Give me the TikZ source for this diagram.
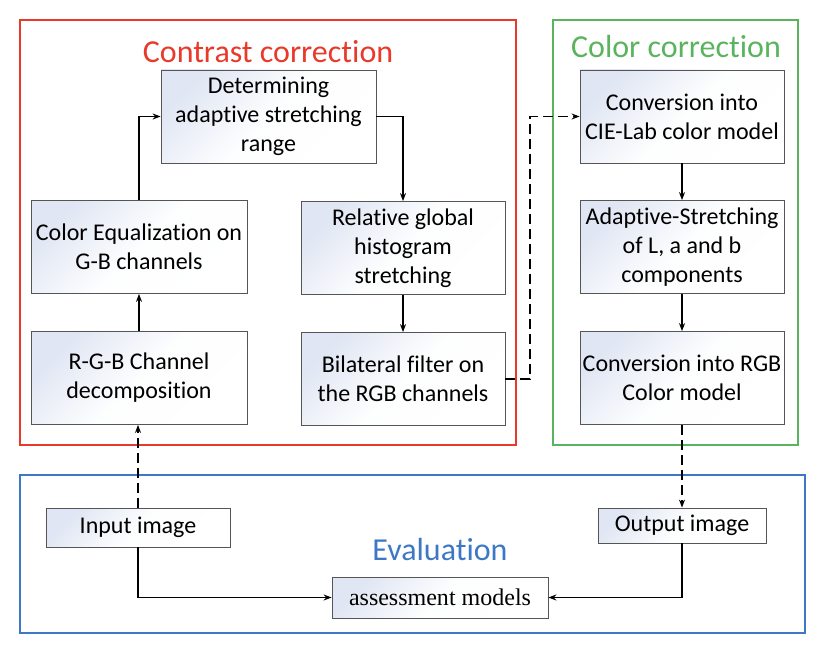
\documentclass[tikz,border=0pt]{standalone}
\usepackage{fontspec}
\setmainfont[Ligatures=NoCommon]{Carlito}
\newfontfamily\serifrm{Liberation Serif}
\usetikzlibrary{arrows.meta}
\definecolor{ccred}{HTML}{E8392B}
\definecolor{ccgreen}{HTML}{5AB45E}
\definecolor{ccblue}{HTML}{3C78C4}
\definecolor{boxtint}{HTML}{E0E6F3}
\definecolor{boxline}{HTML}{555555}

\begin{document}
\begin{tikzpicture}
  [x=1pt,y=-1pt,
   every node/.style={font=\fontsize{24}{29}\selectfont,align=center,inner sep=0pt},
   stage/.style={draw=boxline,line width=0.8pt,top color=boxtint,bottom color=white,
     middle color=white!94!boxtint,shading angle=45,minimum width=204pt,minimum height=93pt},
   frame/.style={line width=1.6pt},
   title/.style={font=\fontsize{32}{36}\selectfont},
   flow/.style={-{Stealth[length=8pt,width=6pt]},line width=1.3pt},
   hop/.style={flow,dash pattern=on 10pt off 5pt}]
  \useasboundingbox (0,0) rectangle (834,660);

  % frames
  \draw[frame,ccred] (20,20) rectangle (516,445);
  \draw[frame,ccgreen] (553,20) rectangle (798,445);
  \draw[frame,ccblue] (20,475) rectangle (805,633);
  \node[title,text=ccred] (ttlA) at (268,52) {Contrast correction};
  \node[title,text=ccgreen] (ttlB) at (676,47) {Color correction};
  \node[title,text=ccblue] (ttlC) at (440,550) {Evaluation};

  % contrast correction
  \node[stage,minimum width=215pt] (det) at (268.5,116.5) {Determining\\adaptive stretching\\range};
  \node[stage,minimum width=216pt] (coleq) at (139,247) {Color Equalization on\\G-B channels};
  \node[stage,minimum width=216pt] (rgbdec) at (139,378) {R-G-B Channel\\decomposition};
  \node[stage] (relhist) at (403,248) {Relative global\\histogram\\stretching};
  \node[stage] (bilat) at (403,379) {Bilateral filter on\\the RGB channels};

  % color correction
  \node[stage] (cie) at (682,116.5) {Conversion into\\CIE-Lab color model};
  \node[stage] (adapt) at (682,247) {Adaptive-Stretching\\of L, a and b\\components};
  \node[stage] (convrgb) at (682,378) {Conversion into RGB\\Color model};

  % evaluation
  \node[stage,minimum width=184pt,minimum height=39pt] (input) at (138,527.5) {Input image};
  \node[stage,minimum width=168pt,minimum height=35pt] (output) at (682,525.5) {Output image};
  \node[stage,minimum width=216pt,minimum height=41pt,font=\serifrm\fontsize{24}{29}\selectfont] (assess) at (440,597.5) {assessment models};

  \coordinate (jog) at (530,116.5);

  \foreach \from/\to in {rgbdec/coleq,relhist/bilat,cie/adapt,adapt/convrgb}
    \draw[flow] (\from) -- (\to);
  \draw[flow] (coleq.north) |- (det.west);
  \draw[flow] (det.east) -| (relhist.north);
  \draw[hop] (bilat.east) -| (jog) -- (cie.west);
  \draw[hop] (input.north) -- (input.north |- rgbdec.south);
  \draw[hop] (convrgb.south) -- (output.north);
  \draw[flow] (input.south) |- (assess.west);
  \draw[flow] (output.south) |- (assess.east);

\end{tikzpicture}
\end{document}
